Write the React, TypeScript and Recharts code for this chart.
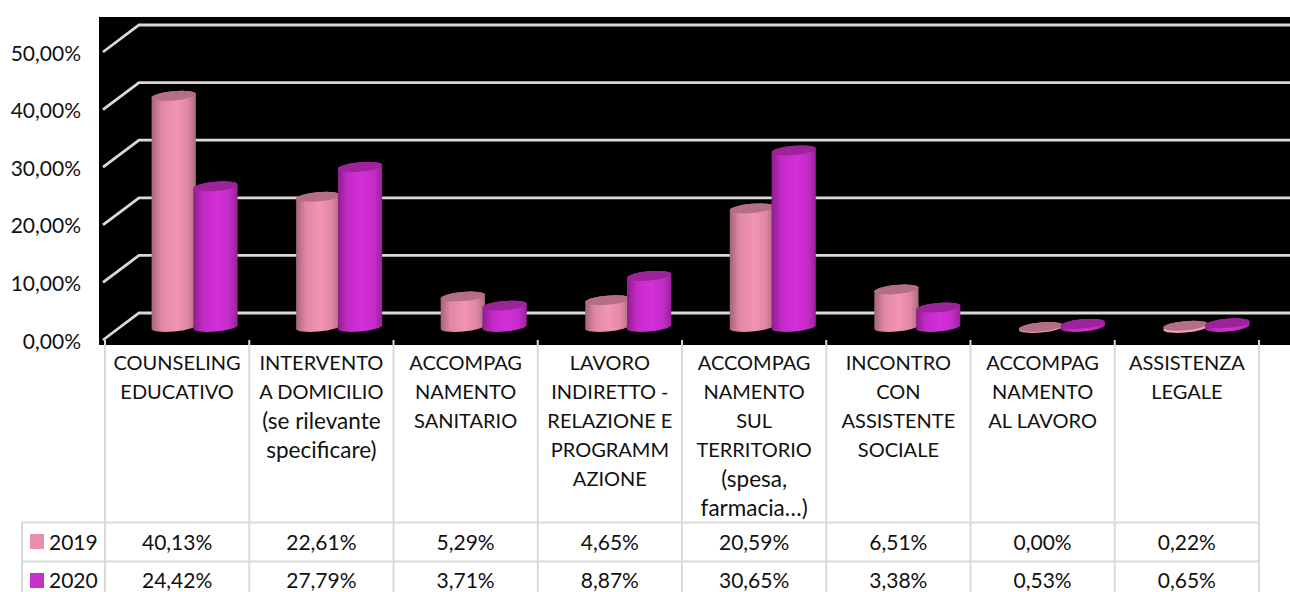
import React from "react";
import { ComposedChart, Bar, XAxis, YAxis, CartesianGrid } from "recharts";

const categories = ["COUNSELING EDUCATIVO", "INTERVENTO A DOMICILIO (se rilevante specificare)", "ACCOMPAG NAMENTO SANITARIO", "LAVORO INDIRETTO - RELAZIONE E PROGRAMM AZIONE", "ACCOMPAG NAMENTO SUL TERRITORIO (spesa, farmacia…)", "INCONTRO CON ASSISTENTE SOCIALE", "ACCOMPAG NAMENTO AL LAVORO", "ASSISTENZA LEGALE"];
const categoryLines = [
  ["COUNSELING", "EDUCATIVO"],
  ["INTERVENTO", "A DOMICILIO", "(se rilevante", "specificare)"],
  ["ACCOMPAG", "NAMENTO", "SANITARIO"],
  ["LAVORO", "INDIRETTO -", "RELAZIONE E", "PROGRAMM", "AZIONE"],
  ["ACCOMPAG", "NAMENTO", "SUL", "TERRITORIO", "(spesa,", "farmacia…)"],
  ["INCONTRO", "CON", "ASSISTENTE", "SOCIALE"],
  ["ACCOMPAG", "NAMENTO", "AL LAVORO"],
  ["ASSISTENZA", "LEGALE"],
];
const values2019 = [40.13, 22.61, 5.29, 4.65, 20.59, 6.51, 0.0, 0.22];
const values2020 = [24.42, 27.79, 3.71, 8.87, 30.65, 3.38, 0.53, 0.65];
const yTicks = [0, 10, 20, 30, 40, 50];
const seriesNames = ["2019", "2020"];

const rows = categories.map((name, i) => ({ name, lines: categoryLines[i], y2019: values2019[i], y2020: values2020[i] }));

const FONT = "Lato, 'Noto Sans', sans-serif";
const SIZE_NUM = 21;
const SIZE_UPPER = 20;
const SIZE_LOWER = 22.5;
const GRID = "#d9d9d9";
const TEXT = "#111111";
const AXIS_Y = 340;
const DEPTH_X = 36;
const DEPTH_Y = 27;
const CAT_W = 144.25;
const fmt = (v: number) => v.toFixed(2).replace(".", ",") + "%";

const GridLine = (p: any) => {
  const { x1, y1, index } = p;
  return (
    <polyline
      key={index}
      points={`${x1 - 2},${y1} ${x1 + DEPTH_X - 2},${y1 - DEPTH_Y} 1290,${y1 - DEPTH_Y}`}
      fill="none"
      stroke={GRID}
      strokeWidth={2.8}
    />
  );
};

const Cylinder = (top: string, grad: string, rim: string) => (p: any) => {
  const { x, y, width, height, index } = p;
  const shiftX = 17.2 + index * 0.3;
  const shiftY = -13;
  const cx = x + width / 2 + shiftX;
  const cyTop = y + shiftY;
  const cyBot = y + height + shiftY;
  const rx = width / 2 + 0.7;
  const ry = 4.6;
  const rot = -5;
  const a = (rot * Math.PI) / 180;
  const dx = rx * Math.cos(a);
  const dy = rx * Math.sin(a);
  const body = `M${cx - dx},${cyTop - dy} L${cx - dx},${cyBot - dy} A${rx},${ry} ${rot} 0 0 ${cx + dx},${cyBot + dy} L${cx + dx},${cyTop + dy} A${rx},${ry} ${rot} 0 0 ${cx - dx},${cyTop - dy} Z`;
  return (
    <g>
      <path d={body} fill={`url(#${grad})`} />
      {height < 3 && (
        <ellipse cx={cx} cy={cyBot + 1} rx={rx} ry={ry} transform={`rotate(${rot} ${cx} ${cyBot + 1})`} fill={rim} />
      )}
      <ellipse cx={cx} cy={cyTop} rx={rx} ry={ry} transform={`rotate(${rot} ${cx} ${cyTop})`} fill={top} />
    </g>
  );
};

const YTick = (p: any) => (
  <text x={81} y={p.y} textAnchor="end" dominantBaseline="central" fontFamily={FONT} fontSize={SIZE_NUM} fill={TEXT}>
    {fmt(p.payload.value)}
  </text>
);

const lineSize = (s: string) => (s === s.toUpperCase() ? SIZE_UPPER : SIZE_LOWER);

const TableTick = (p: any) => {
  const { x, index } = p;
  const left = x - CAT_W / 2;
  const right = x + CAT_W / 2;
  const row = rows[index];
  const t = { fontFamily: FONT, fill: TEXT, dominantBaseline: "central" as const };
  return (
    <g>
      <line x1={left} x2={left} y1={AXIS_Y} y2={592} stroke={GRID} strokeWidth={2} />
      {index === rows.length - 1 && <line x1={right} x2={right} y1={AXIS_Y} y2={592} stroke={GRID} strokeWidth={2} />}
      <line x1={left} x2={right} y1={522.5} y2={522.5} stroke={GRID} strokeWidth={2} />
      <line x1={left} x2={right} y1={561.5} y2={561.5} stroke={GRID} strokeWidth={2} />
      {row.lines.map((line: string, i: number) => (
        <text key={i} x={x} y={362 + i * 29} textAnchor="middle" fontSize={lineSize(line)} {...t}>{line}</text>
      ))}
      <text x={x} y={541} textAnchor="middle" fontSize={SIZE_NUM} {...t}>{fmt(row.y2019)}</text>
      <text x={x} y={579.5} textAnchor="middle" fontSize={SIZE_NUM} {...t}>{fmt(row.y2020)}</text>
      {index === 0 && (
        <g>
          <line x1={22} x2={left} y1={522.5} y2={522.5} stroke={GRID} strokeWidth={2} />
          <line x1={22} x2={left} y1={561.5} y2={561.5} stroke={GRID} strokeWidth={2} />
          <line x1={22} x2={22} y1={522} y2={592} stroke={GRID} strokeWidth={2} />
          <rect x={30} y={534} width={14} height={15} fill="#e68fac" />
          <rect x={30} y={573} width={14} height={15} fill="#c92fc9" />
          <text x={49} y={541} fontSize={SIZE_NUM} {...t}>{seriesNames[0]}</text>
          <text x={49} y={579.5} fontSize={SIZE_NUM} {...t}>{seriesNames[1]}</text>
        </g>
      )}
    </g>
  );
};

export default function App() {
  return (
    <div style={{ position: "absolute", left: 0, top: 0, width: 1290, height: 592, background: "#fff", overflow: "hidden" }}>
      <div style={{ position: "absolute", left: 99, top: 17, width: 1191, height: 328, background: "#000" }} />
      <div style={{ position: "absolute", left: 0, top: 0 }}>
        <ComposedChart
          width={1290}
          height={592}
          data={rows}
          margin={{ top: 52, right: 31, bottom: 0, left: 0 }}
          barCategoryGap={29}
          barGap={-1.2}
        >
          <defs>
            <linearGradient id="pinkBody" x1="0" x2="1" y1="0" y2="0">
              <stop offset="0" stopColor="#a3637b" />
              <stop offset="0.22" stopColor="#e088a6" />
              <stop offset="0.55" stopColor="#f394b4" />
              <stop offset="0.82" stopColor="#de87a4" />
              <stop offset="1" stopColor="#ad6a82" />
            </linearGradient>
            <linearGradient id="purpleBody" x1="0" x2="1" y1="0" y2="0">
              <stop offset="0" stopColor="#8c1e8c" />
              <stop offset="0.22" stopColor="#c22bc6" />
              <stop offset="0.55" stopColor="#d42fd9" />
              <stop offset="0.82" stopColor="#c42cc8" />
              <stop offset="1" stopColor="#982198" />
            </linearGradient>
          </defs>
          <CartesianGrid vertical={false} horizontal={GridLine as any} />
          <XAxis
            dataKey="name"
            interval={0}
            height={252}
            axisLine={false}
            tickLine={false}
            tick={TableTick as any}
          />
          <YAxis
            domain={[0, 50]}
            ticks={yTicks}
            width={105}
            axisLine={false}
            tickLine={false}
            tick={YTick as any}
          />
          <Bar dataKey="y2019" name={seriesNames[0]} barSize={43} isAnimationActive={false} shape={Cylinder("#b56e87", "pinkBody", "#f0a0bc") as any} />
          <Bar dataKey="y2020" name={seriesNames[1]} barSize={43} isAnimationActive={false} shape={Cylinder("#9c2399", "purpleBody", "#d42fd9") as any} />
        </ComposedChart>
      </div>
    </div>
  );
}
